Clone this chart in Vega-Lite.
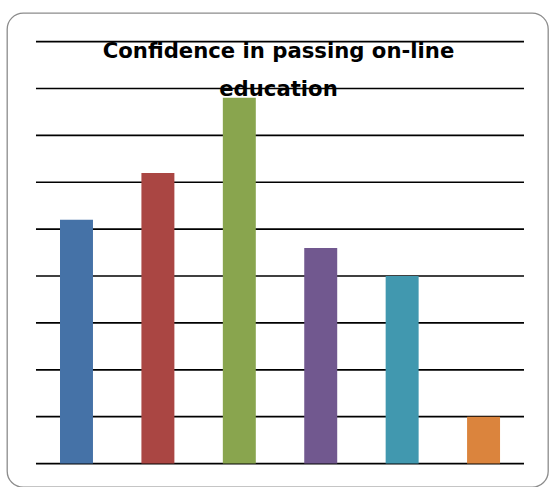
{
  "$schema": "https://vega.github.io/schema/vega-lite/v6.json",
  "width": 549,
  "height": 487,
  "autosize": {"type": "fit", "contains": "padding"},
  "padding": {"left": 7, "top": 13, "right": 1, "bottom": 0},
  "background": "white",
  "view": {"stroke": "#8c8c8c", "strokeWidth": 1.3, "cornerRadius": 16, "fill": "white"},
  "title": {
    "text": ["Confidence in passing on-line", "education"],
    "anchor": "middle",
    "frame": "group",
    "font": "DejaVu Sans",
    "fontSize": 21.2,
    "fontWeight": "bold",
    "color": "#000000",
    "baseline": "alphabetic",
    "lineHeight": 38,
    "offset": -104,
    "dx": 1
  },
  "datasets": {
    "grid": [{"g": 0}, {"g": 1}, {"g": 2}, {"g": 3}, {"g": 4}, {"g": 5}, {"g": 6}, {"g": 7}, {"g": 8}, {"g": 9}],
    "bars": [
      {"category": "Category 1", "value": 5.2},
      {"category": "Category 2", "value": 6.2},
      {"category": "Category 3", "value": 7.8},
      {"category": "Category 4", "value": 4.6},
      {"category": "Category 5", "value": 4.0},
      {"category": "Category 6", "value": 1.0}
    ]
  },
  "layer": [
    {
      "data": {"name": "grid"},
      "mark": {"type": "rule", "color": "#000000", "strokeWidth": 1.7},
      "encoding": {
        "x": {"datum": 0, "type": "quantitative", "scale": {"domain": [-0.0594, 1.0492], "nice": false, "zero": false}, "axis": null},
        "x2": {"datum": 1},
        "y": {"field": "g", "type": "quantitative", "scale": {"domain": [-0.5, 9.61], "nice": false, "zero": false}, "axis": null}
      }
    },
    {
      "data": {"name": "bars"},
      "mark": {"type": "bar"},
      "encoding": {
        "x": {"field": "category", "type": "nominal", "sort": null, "axis": null,
              "scale": {"paddingInner": 0.595, "paddingOuter": 0.62, "align": 0.525}},
        "y": {"field": "value", "type": "quantitative", "axis": null},
        "color": {"field": "category", "type": "nominal", "sort": null, "legend": null,
                  "scale": {"range": ["#4572A7", "#AA4643", "#89A54E", "#71588F", "#4198AF", "#DB843D"]}}
      }
    }
  ],
  "resolve": {"scale": {"x": "independent"}}
}
